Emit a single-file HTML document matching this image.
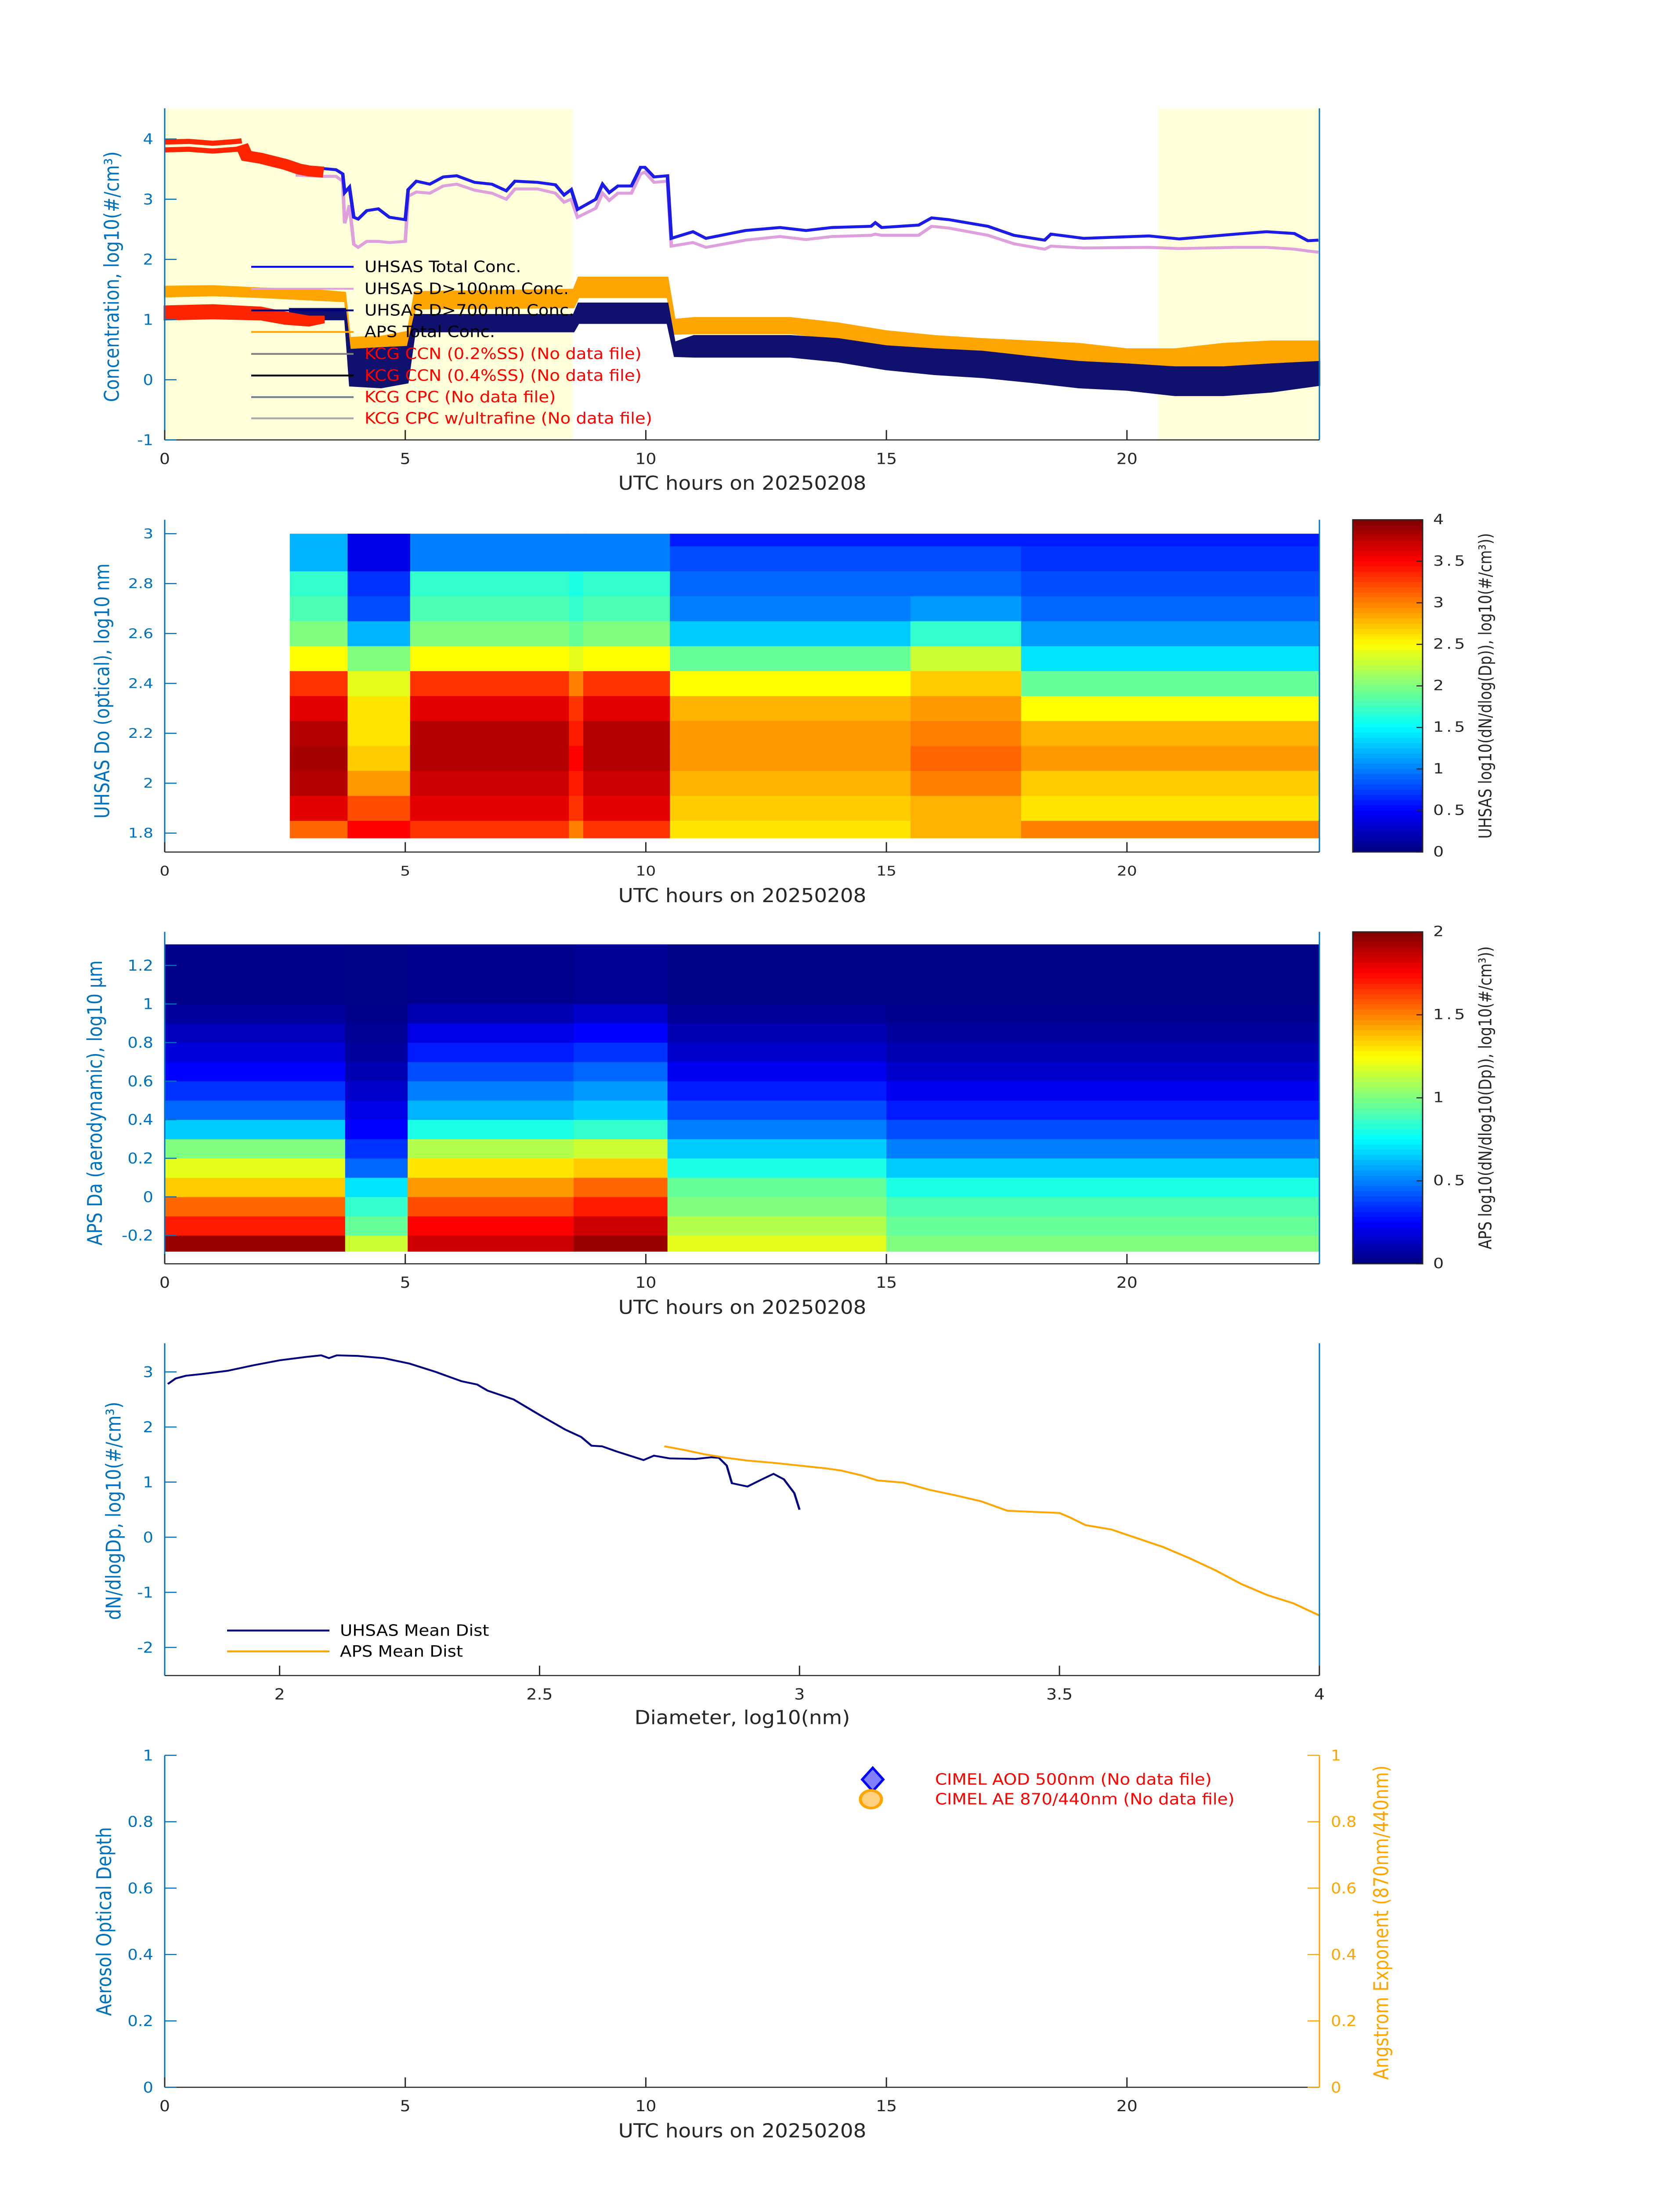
<!DOCTYPE html>
<html><head><meta charset="utf-8"><title>Aerosol summary 20250208</title>
<style>
html,body{margin:0;padding:0;background:#fff;width:100%;height:100%;overflow:hidden;}
svg{display:block;width:100vw;height:100vh;}
text{font-family:"DejaVu Sans","Liberation Sans",sans-serif;}
.cond{font-family:"DejaVu Sans Condensed","DejaVu Sans","Liberation Sans Narrow",sans-serif;font-stretch:condensed;}
</style></head>
<body>
<svg id="chart" xmlns="http://www.w3.org/2000/svg" viewBox="0 0 3825 6000" preserveAspectRatio="none"></svg>
<script>
// ---------------- DATA ----------------
const uhsasT = [2.72,3.28,3.56,3.7,3.74,3.84,3.93,4.02,4.2,4.44,4.67,5.0,5.06,5.23,5.51,5.79,6.07,6.44,6.8,7.1,7.28,7.75,8.12,8.3,8.45,8.58,8.96,9.1,9.24,9.42,9.7,9.89,9.98,10.17,10.45,10.53,10.98,11.25,12.07,12.79,13.33,13.87,14.68,14.77,14.9,15.67,15.94,16.3,17.11,17.65,18.29,18.42,19.1,20.46,21.09,22.26,22.9,23.48,23.76,23.98];
const uhsasTotal = [3.53,3.51,3.49,3.42,3.11,3.2,2.7,2.67,2.81,2.84,2.7,2.66,3.16,3.3,3.25,3.37,3.39,3.28,3.25,3.14,3.3,3.28,3.24,3.07,3.16,2.83,3.0,3.25,3.11,3.22,3.22,3.53,3.53,3.37,3.39,2.35,2.46,2.35,2.48,2.53,2.48,2.53,2.55,2.61,2.53,2.57,2.69,2.66,2.55,2.4,2.32,2.42,2.35,2.39,2.34,2.42,2.46,2.43,2.31,2.32];
const uhsasD100 = [3.4,3.38,3.38,3.3,2.6,2.9,2.25,2.2,2.3,2.3,2.28,2.3,3.05,3.12,3.1,3.22,3.25,3.15,3.1,3.0,3.17,3.17,3.1,2.95,3.0,2.7,2.85,3.1,2.98,3.1,3.1,3.42,3.45,3.28,3.3,2.22,2.28,2.2,2.32,2.38,2.33,2.38,2.4,2.42,2.4,2.4,2.55,2.52,2.4,2.26,2.17,2.22,2.19,2.2,2.18,2.2,2.2,2.17,2.14,2.12];
const d700T = [2.6,3.75,3.85,4.5,5.05,5.2,8.5,8.6,10.45,10.6,11,13,14,15,16,17,18,19,20,21,22,23,24];
const d700Low = [1.0,1.0,-0.1,-0.13,-0.05,0.8,0.8,0.94,0.94,0.39,0.38,0.38,0.3,0.17,0.09,0.04,-0.04,-0.13,-0.17,-0.26,-0.26,-0.2,-0.09];
const d700High = [1.18,1.18,0.5,0.53,0.55,1.08,1.08,1.27,1.27,0.62,0.73,0.73,0.68,0.56,0.51,0.47,0.38,0.3,0.26,0.21,0.21,0.26,0.3];
const apsT = [0,1,2,3,3.75,3.85,4.5,5.05,5.2,8.5,8.6,10.45,10.6,11,13,14,15,16,17,18,19,20,21,22,23,24];
const apsLow = [1.38,1.4,1.37,1.33,1.3,0.35,0.38,0.48,1.18,1.2,1.37,1.37,0.76,0.77,0.77,0.68,0.56,0.47,0.42,0.38,0.3,0.17,0.13,0.17,0.21,0.3];
const apsHigh = [1.55,1.56,1.52,1.5,1.45,0.7,0.72,0.8,1.46,1.5,1.7,1.7,1.0,1.03,1.03,0.94,0.81,0.73,0.68,0.64,0.6,0.51,0.51,0.6,0.64,0.64];
const redT1 = [0,0.5,1,1.5,1.6];
const redV1 = [3.95,3.96,3.93,3.96,3.97];
const redV2 = [3.82,3.83,3.8,3.83,3.85];
const redMidT = [1.6,1.7,2.0,2.5,2.8,3.0,3.3];
const redMidV = [3.9,3.72,3.68,3.58,3.5,3.47,3.45];
const redLowT = [0,1,2,2.5,3,3.3];
const redLowLo = [1.0,1.02,1.0,0.93,0.9,0.95];
const redLowHi = [1.22,1.24,1.2,1.12,1.05,1.05];
const shadeStart = [0,20.65];
const shadeEnd = [8.48,24];

const uhsasEdges = [1.78,1.85,1.95,2.05,2.15,2.25,2.35,2.45,2.55,2.65,2.75,2.85,2.95,3.0];
const uhsasSegStart = [2.6,3.8,5.1,8.4,8.7,10.5,15.5,17.8];
const uhsasSegEnd = [3.8,5.1,8.4,8.7,10.5,15.5,17.8,24];
const uhsasProfA = [3.1,3.6,3.8,3.85,3.8,3.6,3.3,2.5,2.0,1.8,1.7,1.2,1.2];
const uhsasProfB = [3.5,3.2,2.9,2.7,2.6,2.6,2.4,2.0,1.2,0.8,0.7,0.4,0.4];
const uhsasProfC = [3.3,3.6,3.7,3.8,3.8,3.6,3.3,2.5,2.0,1.8,1.7,1.0,1.0];
const uhsasProfC2 = [3.0,3.3,3.4,3.5,3.4,3.3,3.0,2.4,1.9,1.7,1.6,1.0,1.0];
const uhsasProfD = [2.6,2.7,2.8,2.9,2.9,2.8,2.5,1.9,1.3,1.0,0.9,0.8,0.6];
const uhsasProfE = [2.8,2.8,3.0,3.1,3.0,2.9,2.7,2.3,1.7,1.1,0.9,0.8,0.6];
const uhsasProfF = [3.0,2.6,2.7,2.9,2.8,2.5,1.9,1.4,1.1,0.9,0.8,0.7,0.6];
const uhsasSegProfiles = [uhsasProfA,uhsasProfB,uhsasProfC,uhsasProfC2,uhsasProfC,uhsasProfD,uhsasProfE,uhsasProfF];

const apsEdges = [-0.283,-0.2,-0.1,0,0.1,0.2,0.3,0.4,0.5,0.6,0.7,0.8,0.9,1.0,1.309];
const apsSegStart = [0,3.75,5.05,8.5,10.45,15];
const apsSegEnd = [3.75,5.05,8.5,10.45,15,24];
const apsProfA = [1.95,1.7,1.55,1.35,1.2,1.0,0.65,0.45,0.35,0.25,0.18,0.12,0.06,0.02];
const apsProfB = [1.15,0.95,0.85,0.7,0.45,0.35,0.25,0.2,0.15,0.1,0.06,0.04,0.02,0.01];
const apsProfC = [1.85,1.75,1.6,1.45,1.3,1.1,0.8,0.6,0.5,0.4,0.3,0.2,0.1,0.03];
const apsProfD = [1.95,1.85,1.7,1.55,1.35,1.15,0.85,0.65,0.55,0.45,0.35,0.25,0.15,0.04];
const apsProfE = [1.2,1.1,1.0,0.95,0.8,0.65,0.5,0.4,0.3,0.22,0.15,0.1,0.05,0.01];
const apsProfF = [1.0,0.95,0.9,0.8,0.65,0.5,0.4,0.3,0.22,0.15,0.1,0.06,0.03,0.01];
const apsSegProfiles = [apsProfA,apsProfB,apsProfC,apsProfD,apsProfE,apsProfF];

const uhsasDistX = [1.785,1.8,1.82,1.85,1.9,1.95,2.0,2.05,2.08,2.095,2.11,2.15,2.2,2.25,2.3,2.35,2.38,2.4,2.45,2.5,2.55,2.58,2.6,2.62,2.65,2.7,2.72,2.75,2.8,2.83,2.845,2.86,2.87,2.9,2.93,2.95,2.97,2.99,3.0];
const uhsasDistY = [2.78,2.88,2.93,2.96,3.02,3.12,3.21,3.27,3.3,3.25,3.3,3.29,3.25,3.15,3.0,2.83,2.77,2.66,2.5,2.22,1.95,1.82,1.66,1.65,1.55,1.4,1.48,1.43,1.42,1.45,1.44,1.3,0.98,0.92,1.06,1.15,1.05,0.8,0.5];
const apsDistX = [2.74,2.78,2.82,2.86,2.9,2.95,3.0,3.05,3.08,3.12,3.15,3.2,3.25,3.3,3.35,3.4,3.5,3.52,3.55,3.6,3.65,3.7,3.75,3.8,3.85,3.9,3.95,4.0];
const apsDistY = [1.65,1.58,1.5,1.44,1.39,1.35,1.3,1.25,1.21,1.12,1.03,0.99,0.86,0.76,0.65,0.48,0.44,0.36,0.22,0.14,-0.02,-0.18,-0.38,-0.6,-0.85,-1.05,-1.2,-1.42];

const hourTicks = [0,5,10,15,20];
const p1YTicks = [-1,0,1,2,3,4];
const p2YTicks = [1.8,2,2.2,2.4,2.6,2.8,3];
const p2YLabels = ["1.8","2","2.2","2.4","2.6","2.8","3"];
const p3YTicks = [-0.2,0,0.2,0.4,0.6,0.8,1,1.2];
const p3YLabels = ["-0.2","0","0.2","0.4","0.6","0.8","1","1.2"];
const p4XTicks = [2,2.5,3,3.5,4];
const p4XLabels = ["2","2.5","3","3.5","4"];
const p4YTicks = [-2,-1,0,1,2,3];
const p5YTicks = [0,0.2,0.4,0.6,0.8,1];
const p5YLabels = ["0","0.2","0.4","0.6","0.8","1"];
const cb1Ticks = [0,0.5,1,1.5,2,2.5,3,3.5,4];
const cb1Labels = ["0","0.5","1","1.5","2","2.5","3","3.5","4"];
const cb2Ticks = [0,0.5,1,1.5,2];
const cb2Labels = ["0","0.5","1","1.5","2"];

// ---------------- RENDER ----------------
const NS = "http://www.w3.org/2000/svg";
const svg = document.getElementById('chart');
const X0 = 375, X1 = 3004;
const BLUE = "#0072bd", DARK = "#262626", ORANGE = "#ffa500";

function mk(parent, tag, attrs, name) {
  const el = document.createElementNS(NS, tag);
  for (const k in attrs) el.setAttribute(k, attrs[k]);
  
  
  parent.appendChild(el);
  return el;
}
function txt(parent, x, y, s, size, fill, anchor, name, opts) {
  opts = opts || {};
  const a = {x: x, y: y, 'font-size': size, fill: fill, 'text-anchor': anchor, 'dominant-baseline': 'central'};
  if (opts.cls) a['class'] = opts.cls;
  if (opts.rot) a.transform = 'rotate(' + opts.rot + ' ' + x + ' ' + y + ')';
  if (opts.len) { a.textLength = opts.len; a.lengthAdjust = 'spacingAndGlyphs'; }
  if (opts.ls) a['letter-spacing'] = opts.ls;
  const t = mk(parent, 'text', a, name);
  t.textContent = s;
  return t;
}
function lin(d0, d1, r0, r1) { return v => r0 + (v - d0) / (d1 - d0) * (r1 - r0); }
function jet(v) {
  v = Math.max(0, Math.min(1, v));
  const c = x => Math.round(255 * Math.max(0, Math.min(1, x)));
  return 'rgb(' + c(1.5 - Math.abs(4 * v - 3)) + ',' + c(1.5 - Math.abs(4 * v - 2)) + ',' + c(1.5 - Math.abs(4 * v - 1)) + ')';
}
function pts(xs, ys, sx, sy) { return xs.map((x, i) => sx(x).toFixed(1) + ',' + sy(ys[i]).toFixed(1)).join(' '); }
function band(xs, lo, hi, sx, sy) {
  const a = xs.map((x, i) => sx(x).toFixed(1) + ',' + sy(lo[i]).toFixed(1));
  const b = xs.map((x, i) => sx(x).toFixed(1) + ',' + sy(hi[i]).toFixed(1)).reverse();
  return a.concat(b).join(' ');
}

function axesFrame(g, top, bot, sx, xTicks, xLabels, sy, yTicks, yLabels, yTickCls, yTickSize, xTickCls, xTickSize, rightColor) {
  mk(g, 'line', {x1: X0, y1: top, x2: X0, y2: bot, stroke: BLUE, 'stroke-width': 3}, 'y-axis-line');
  mk(g, 'line', {x1: X1, y1: top, x2: X1, y2: bot, stroke: rightColor, 'stroke-width': 3}, 'right-axis-line');
  mk(g, 'line', {x1: X0, y1: bot, x2: X1, y2: bot, stroke: DARK, 'stroke-width': 3}, 'x-axis-line');
  xTicks.forEach((t, i) => {
    const x = sx(t);
    mk(g, 'line', {x1: x, y1: bot, x2: x, y2: bot - 27, stroke: DARK, 'stroke-width': 3}, 'x-tick');
    txt(g, x, bot + 52, xLabels[i], xTickSize, DARK, 'middle', 'x-tick-label', {cls: xTickCls});
  });
  yTicks.forEach((t, i) => {
    const y = sy(t);
    mk(g, 'line', {x1: X0, y1: y, x2: X0 + 27, y2: y, stroke: BLUE, 'stroke-width': 3}, 'y-tick');
    txt(g, X0 - 26, y, yLabels[i], yTickSize, BLUE, 'end', 'y-tick-label', {cls: yTickCls});
  });
}

const hourLabels = hourTicks.map(String);

// ===== Panel 1 =====
(function () {
  const g = mk(svg, 'g', {}, 'concentration-panel');
  const top = 296, bot = 1202;
  const sx = lin(0, 24, X0, X1), sy = lin(-1, 4.51, bot, top);
  shadeStart.forEach((s, i) => {
    mk(g, 'rect', {x: sx(s), y: top, width: sx(shadeEnd[i]) - sx(s), height: bot - top, fill: '#ffffd9'}, 'shaded-period');
  });
  mk(g, 'polygon', {points: band(apsT, apsLow, apsHigh, sx, sy), fill: ORANGE, stroke: ORANGE, 'stroke-width': 4}, 'aps-total-conc-series');
  mk(g, 'polygon', {points: band(d700T, d700Low, d700High, sx, sy), fill: '#10106e', stroke: '#10106e', 'stroke-width': 4}, 'uhsas-d700-conc-series');
  mk(g, 'polygon', {points: band(redLowT, redLowLo, redLowHi, sx, sy), fill: '#ff2400', stroke: '#ff2400', 'stroke-width': 5}, 'red-low-series');
  mk(g, 'polyline', {points: pts(uhsasT, uhsasD100, sx, sy), fill: 'none', stroke: '#dda0dd', 'stroke-width': 8}, 'uhsas-d100-conc-series');
  mk(g, 'polyline', {points: pts(uhsasT, uhsasTotal, sx, sy), fill: 'none', stroke: '#1c1ce6', 'stroke-width': 8}, 'uhsas-total-conc-series');
  mk(g, 'polyline', {points: pts(redT1, redV1, sx, sy), fill: 'none', stroke: '#ff2400', 'stroke-width': 14}, 'red-upper-series-1');
  mk(g, 'polyline', {points: pts(redT1, redV2, sx, sy), fill: 'none', stroke: '#ff2400', 'stroke-width': 14}, 'red-upper-series-2');
  mk(g, 'polyline', {points: pts(redMidT, redMidV, sx, sy), fill: 'none', stroke: '#ff2400', 'stroke-width': 30}, 'red-upper-series-merged');
  axesFrame(g, top, bot, sx, hourTicks, hourLabels, sy, p1YTicks, p1YTicks.map(String), 'cond', 41, 'cond', 42, BLUE);
  txt(g, 1690, 1321, 'UTC hours on 20250208', 52, DARK, 'middle', 'x-axis-title', {cls: 'cond'});
  txt(g, 255, 756, 'Concentration, log10(#/cm³)', 46, BLUE, 'middle', 'y-axis-title', {rot: -90, len: 685});
  const legNames = ['UHSAS Total Conc.', 'UHSAS D>100nm Conc.', 'UHSAS D>700 nm Conc.', 'APS Total Conc.', 'KCG CCN (0.2%SS) (No data file)', 'KCG CCN (0.4%SS) (No data file)', 'KCG CPC (No data file)', 'KCG CPC w/ultrafine (No data file)'];
  const legColors = ['#0000ff', '#dda0dd', '#000080', ORANGE, '#808080', '#000000', '#708090', '#a9a9a9'];
  const legText = ['#000', '#000', '#000', '#000', '#ff0000', '#ff0000', '#ff0000', '#ff0000'];
  const legY = [729, 789, 848, 907, 967, 1026, 1085, 1143];
  const lg = mk(g, 'g', {}, 'legend');
  legNames.forEach((n, i) => {
    mk(lg, 'line', {x1: 572, y1: legY[i], x2: 805, y2: legY[i], stroke: legColors[i], 'stroke-width': 5}, 'legend-line');
    txt(lg, 830, legY[i], n, 43, legText[i], 'start', 'legend-entry', {cls: 'cond'});
  });
})();

// ===== Heatmap helper =====
function heatPanel(name, top, bot, ylo, yhi, edges, segS, segE, profs, vmax, yTicks, yLabels, yCls, ySize, xCls, xSize, ylabel, ylabelX, ylabelLen, cbTicks, cbLabels, cbLabel, cbLen) {
  const g = mk(svg, 'g', {}, name);
  const sx = lin(0, 24, X0, X1), sy = lin(ylo, yhi, bot, top);
  const hm = mk(g, 'g', {}, 'heatmap');
  segS.forEach((s, i) => {
    const prof = profs[i];
    for (let k = 0; k < prof.length; k++) {
      const y0 = sy(edges[k + 1]), y1 = sy(edges[k]);
      mk(hm, 'rect', {x: sx(s).toFixed(1), y: y0.toFixed(1), width: (sx(segE[i]) - sx(s) + 0.6).toFixed(1), height: (y1 - y0 + 0.6).toFixed(1), fill: jet(prof[k] / vmax)}, 'heatmap-cell');
    }
  });
  axesFrame(g, top, bot, sx, hourTicks, hourLabels, sy, yTicks, yLabels, yCls, ySize, xCls, xSize, BLUE);
  txt(g, 1690, bot + 120, 'UTC hours on 20250208', 52, DARK, 'middle', 'x-axis-title', {cls: 'cond'});
  txt(g, ylabelX, (top + bot) / 2 + 14, ylabel, 46, BLUE, 'middle', 'y-axis-title', {rot: -90, len: ylabelLen});
  const cx0 = 3080, cx1 = 3239;
  const gid = name + '-grad';
  const defs = mk(g, 'defs', {}, 'colorbar-defs');
  const grad = mk(defs, 'linearGradient', {id: gid, x1: 0, y1: 1, x2: 0, y2: 0}, 'colorbar-gradient');
  for (let i = 0; i < 64; i++) {
    mk(grad, 'stop', {offset: (i / 64).toFixed(4), 'stop-color': jet((i + 0.5) / 64)}, 'gradient-stop');
    mk(grad, 'stop', {offset: ((i + 1) / 64).toFixed(4), 'stop-color': jet((i + 0.5) / 64)}, 'gradient-stop');
  }
  const cb = mk(g, 'g', {}, 'colorbar');
  mk(cb, 'rect', {x: cx0, y: top, width: cx1 - cx0, height: bot - top, fill: 'url(#' + gid + ')', stroke: DARK, 'stroke-width': 3}, 'colorbar-fill');
  const cy = lin(0, vmax, bot, top);
  cbTicks.forEach((t, i) => {
    mk(cb, 'line', {x1: cx1, y1: cy(t), x2: cx1 - 14, y2: cy(t), stroke: DARK, 'stroke-width': 3}, 'colorbar-tick');
    txt(cb, 3263, cy(t), cbLabels[i], 38, DARK, 'start', 'colorbar-tick-label', {ls: 6});
  });
  txt(cb, 3382, (top + bot) / 2, cbLabel, 40, DARK, 'middle', 'colorbar-title', {rot: -90, len: cbLen, cls: 'cond'});
}

heatPanel('uhsas-size-panel', 1420, 2328, 1.724, 3.056, uhsasEdges, uhsasSegStart, uhsasSegEnd, uhsasSegProfiles, 4,
  p2YTicks, p2YLabels, '', 36, '', 36, 'UHSAS Do (optical), log10 nm', 233, 697,
  cb1Ticks, cb1Labels, 'UHSAS log10(dN/dlog(Dp)), log10(#/cm³))', 835);
heatPanel('aps-size-panel', 2546, 3453, -0.347, 1.374, apsEdges, apsSegStart, apsSegEnd, apsSegProfiles, 2,
  p3YTicks, p3YLabels, 'cond', 41, 'cond', 42, 'APS Da (aerodynamic), log10 μm', 216, 779,
  cb2Ticks, cb2Labels, 'APS log10(dN/dlog10(Dp)), log10(#/cm³))', 828);

// ===== Panel 4 =====
(function () {
  const g = mk(svg, 'g', {}, 'mean-distribution-panel');
  const top = 3670, bot = 4578;
  const sx = lin(1.779, 4, X0, X1), sy = lin(-2.51, 3.52, bot, top);
  mk(g, 'polyline', {points: pts(uhsasDistX, uhsasDistY, sx, sy), fill: 'none', stroke: '#000080', 'stroke-width': 5}, 'uhsas-mean-dist-line');
  mk(g, 'polyline', {points: pts(apsDistX, apsDistY, sx, sy), fill: 'none', stroke: ORANGE, 'stroke-width': 5}, 'aps-mean-dist-line');
  axesFrame(g, top, bot, sx, p4XTicks, p4XLabels, sy, p4YTicks, p4YTicks.map(String), 'cond', 41, 'cond', 42, BLUE);
  txt(g, 1690, 4694, 'Diameter,  log10(nm)', 52, DARK, 'middle', 'x-axis-title', {cls: 'cond'});
  txt(g, 259, 4128, 'dN/dlogDp, log10(#/cm³)', 46, BLUE, 'middle', 'y-axis-title', {rot: -90, len: 596});
  const lg = mk(g, 'g', {}, 'legend');
  mk(lg, 'line', {x1: 517, y1: 4455, x2: 750, y2: 4455, stroke: '#000080', 'stroke-width': 5}, 'legend-line');
  txt(lg, 774, 4455, 'UHSAS Mean Dist', 43, '#000', 'start', 'legend-entry', {cls: 'cond'});
  mk(lg, 'line', {x1: 517, y1: 4512, x2: 750, y2: 4512, stroke: ORANGE, 'stroke-width': 5}, 'legend-line');
  txt(lg, 774, 4512, 'APS Mean Dist', 43, '#000', 'start', 'legend-entry', {cls: 'cond'});
})();

// ===== Panel 5 =====
(function () {
  const g = mk(svg, 'g', {}, 'aod-panel');
  const top = 4796, bot = 5703;
  const sx = lin(0, 24, X0, X1), sy = lin(0, 1, bot, top);
  axesFrame(g, top, bot, sx, hourTicks, hourLabels, sy, p5YTicks, p5YLabels, 'cond', 41, 'cond', 42, ORANGE);
  p5YTicks.forEach((t, i) => {
    mk(g, 'line', {x1: X1, y1: sy(t), x2: X1 - 27, y2: sy(t), stroke: ORANGE, 'stroke-width': 3}, 'right-y-tick');
    txt(g, X1 + 26, sy(t), p5YLabels[i], 41, ORANGE, 'start', 'right-y-tick-label', {cls: 'cond'});
  });
  txt(g, 1690, bot + 120, 'UTC hours on 20250208', 52, DARK, 'middle', 'x-axis-title', {cls: 'cond'});
  txt(g, 237, 5250, 'Aerosol Optical Depth', 46, BLUE, 'middle', 'y-axis-title', {rot: -90, len: 516});
  txt(g, 3145, 5253, 'Angstrom Exponent (870nm/440nm)', 46, ORANGE, 'middle', 'right-y-axis-title', {rot: -90, len: 859});
  const lg = mk(g, 'g', {}, 'legend');
  mk(lg, 'polygon', {points: '1987,4830 2011,4862 1987,4894 1963,4862', fill: '#8080ff', stroke: '#0000ff', 'stroke-width': 6}, 'legend-marker-aod');
  mk(lg, 'circle', {cx: 1983, cy: 4916, r: 24, fill: '#ffd080', stroke: ORANGE, 'stroke-width': 7}, 'legend-marker-ae');
  txt(lg, 2129, 4862, 'CIMEL AOD 500nm (No data file)', 43, '#ff0000', 'start', 'legend-entry', {cls: 'cond'});
  txt(lg, 2129, 4916, 'CIMEL AE 870/440nm (No data file)', 43, '#ff0000', 'start', 'legend-entry', {cls: 'cond'});
})();
</script>
</body></html>
